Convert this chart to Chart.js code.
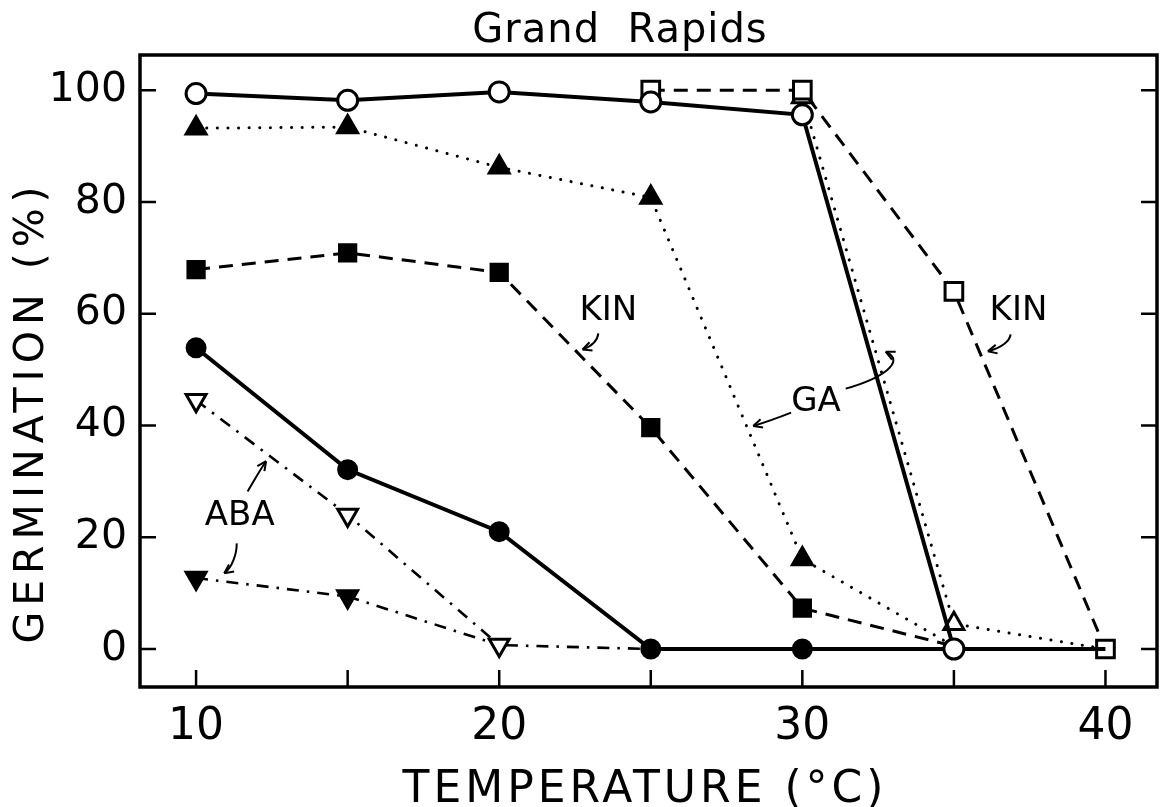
<!DOCTYPE html>
<html>
<head>
<meta charset="utf-8">
<title>Grand Rapids</title>
<script src="https://cdn.jsdelivr.net/npm/chart.js@4.4.1/dist/chart.umd.min.js"></script>
<style>
  html, body { margin: 0; padding: 0; background: #fff; overflow: hidden; }
  canvas { display: block; }
</style>
</head>
<body>
<canvas id="germChart" width="1162" height="807"></canvas>
<script>
// Temperature (°C)
const temps = [10, 15, 20, 25, 30, 35, 40];

// Germination (%) per treatment, null = no point
const openCircles     = [99.4, 98.2, 99.7, 97.9, 95.6, 0, 0];
const filledCircles   = [53.9, 32.1, 21.0, 0, 0, 0, null];
const openSquares     = [null, null, null, 100, 100, 64, 0];
const filledSquares   = [67.9, 70.9, 67.4, 39.6, 7.3, 0.5, null];
const openTriangles   = [null, null, null, null, 98.8, 4.5, 0];
const filledTriangles = [93.2, 93.4, 86.2, 80.8, 16.1, 0.5, null];
const openDown        = [44.5, 24.0, 0.7, 0, null, null, null];
const filledDown      = [12.7, 9.4, 0.7, null, null, null, null];

// temperatures where a line only ends (no symbol of its own)
const lineEnds = {
  openCircles: [40], filledCircles: [35], filledSquares: [35],
  openTriangles: [40], filledTriangles: [35], openDown: [25], filledDown: [20]
};

const xLabels = [10, 20, 30, 40];

// curve labels, in data units
const notes = [
  { text: 'KIN', x: 23.6, y: 60.5 },
  { text: 'KIN', x: 37.13, y: 60.5 },
  { text: 'GA', x: 30.45, y: 44.1 },
  { text: 'ABA', x: 11.44, y: 23.8 }
];
// arrows: start, control 1, control 2, end (data units)
const arrows = [
  [[23.27, 56.5], [23.25, 55.5], [23.1, 54.3], [22.75, 53.6]],
  [[36.87, 56.3], [36.85, 55.2], [36.6, 53.9], [36.12, 53.3]],
  [[29.63, 42.3], [29.3, 41.6], [28.8, 40.6], [28.38, 39.9]],
  [[31.43, 46.6], [32.6, 48.4], [33.45, 51.4], [32.75, 53.2]],
  [[11.70, 28.2], [11.9, 30.0], [12.1, 32.0], [12.31, 33.6]],
  [[11.34, 18.9], [11.35, 17.2], [11.2, 14.6], [10.93, 13.55]]
];

function series(key, vals, opts) {
  const ends = lineEnds[key] || [];
  return Object.assign({
    label: key,
    data: temps.map((t, i) => ({ x: t, y: vals[i] })).filter(p => p.y !== null),
    borderColor: '#000',
    pointBorderColor: '#000',
    pointBorderWidth: 3,
    pointHoverRadius: 0,
    pointRadius: ctx => (ctx.raw && ends.includes(ctx.raw.x)) ? 0 : opts.size,
    tension: 0,
    fill: false
  }, opts);
}

const solid = { borderWidth: 4, borderDash: [] };
const dashed = { borderWidth: 3, borderDash: [14, 9] };
const dotted = { borderWidth: 3, borderDash: [0.1, 10.5], borderCapStyle: 'round' };
const dashDot = { borderWidth: 2.6, borderDash: [12, 8, 2.5, 8] };

const datasets = [
  series('openCircles', openCircles, Object.assign({ size: 10, pointStyle: 'circle', pointBackgroundColor: '#fff' }, solid)),
  series('openSquares', openSquares, Object.assign({ size: 12.5, pointStyle: 'rect', pointBackgroundColor: '#fff' }, dashed)),
  series('openTriangles', openTriangles, Object.assign({ size: 11.5, pointStyle: 'triangle', pointBackgroundColor: '#fff' }, dotted)),
  series('filledTriangles', filledTriangles, Object.assign({ size: 11.5, pointStyle: 'triangle', pointBackgroundColor: '#000' }, dotted)),
  series('filledSquares', filledSquares, Object.assign({ size: 11.5, pointStyle: 'rect', pointBackgroundColor: '#000' }, dashed)),
  series('filledCircles', filledCircles, Object.assign({ size: 9, pointStyle: 'circle', pointBackgroundColor: '#000' }, solid)),
  series('openDown', openDown, Object.assign({ size: 11.5, pointStyle: 'triangle', pointRotation: 180, pointBackgroundColor: '#fff' }, dashDot)),
  series('filledDown', filledDown, Object.assign({ size: 11.5, pointStyle: 'triangle', pointRotation: 180, pointBackgroundColor: '#000' }, dashDot))
];

// box + inward ticks
const framePlugin = {
  id: 'frame',
  beforeDatasetsDraw(chart) {
    const { ctx, chartArea: a, scales: { x, y } } = chart;
    ctx.save();
    ctx.strokeStyle = '#000';
    ctx.lineWidth = 2.5;
    ctx.beginPath();
    x.ticks.forEach(t => {
      const px = x.getPixelForValue(t.value);
      ctx.moveTo(px, a.bottom);
      ctx.lineTo(px, a.bottom - 17);
    });
    y.ticks.forEach(t => {
      const py = y.getPixelForValue(t.value);
      ctx.moveTo(a.left, py);
      ctx.lineTo(a.left + 16, py);
      ctx.moveTo(a.right, py);
      ctx.lineTo(a.right - 16, py);
    });
    ctx.stroke();
    ctx.lineWidth = 3.5;
    ctx.strokeRect(a.left, a.top, a.right - a.left, a.bottom - a.top);
    ctx.restore();
  }
};

// curve labels and arrows
const notesPlugin = {
  id: 'notes',
  afterDatasetsDraw(chart) {
    const { ctx, scales: { x, y } } = chart;
    ctx.save();
    ctx.fillStyle = '#000';
    ctx.font = '34px "DejaVu Sans"';
    ctx.textAlign = 'center';
    ctx.textBaseline = 'middle';
    notes.forEach(n => ctx.fillText(n.text, x.getPixelForValue(n.x), y.getPixelForValue(n.y)));

    ctx.strokeStyle = '#000';
    ctx.lineWidth = 2;
    arrows.forEach(a => {
      const p = a.map(q => [x.getPixelForValue(q[0]), y.getPixelForValue(q[1])]);
      ctx.beginPath();
      ctx.moveTo(p[0][0], p[0][1]);
      ctx.bezierCurveTo(p[1][0], p[1][1], p[2][0], p[2][1], p[3][0], p[3][1]);
      ctx.stroke();
      const ang = Math.atan2(p[3][1] - p[2][1], p[3][0] - p[2][0]);
      ctx.beginPath();
      [0.45, -0.45].forEach(d => {
        ctx.moveTo(p[3][0], p[3][1]);
        ctx.lineTo(p[3][0] - 10 * Math.cos(ang + d), p[3][1] - 10 * Math.sin(ang + d));
      });
      ctx.stroke();
    });
    ctx.restore();
  }
};

// title and spaced axis titles
const titlesPlugin = {
  id: 'titles',
  afterDraw(chart) {
    const { ctx } = chart;
    ctx.save();
    ctx.fillStyle = '#000';
    ctx.textAlign = 'center';
    ctx.textBaseline = 'alphabetic';
    ctx.font = '40px "DejaVu Sans"';
    ctx.letterSpacing = '1px';
    ctx.fillText('Grand  Rapids', 620, 42);

    ctx.font = '44px "DejaVu Sans"';
    ctx.letterSpacing = '4px';
    ctx.fillText('TEMPERATURE (°C)', 645, 802);

    ctx.translate(43, 412);
    ctx.rotate(-Math.PI / 2);
    ctx.font = '41px "DejaVu Sans"';
    ctx.letterSpacing = '6px';
    ctx.fillText('GERMINATION (%)', 0, 0);
    ctx.restore();
  }
};

new Chart(document.getElementById('germChart').getContext('2d'), {
  type: 'line',
  data: { datasets: datasets },
  options: {
    responsive: false,
    animation: false,
    devicePixelRatio: 1,
    layout: { autoPadding: false, padding: { left: 0, top: 55, right: 5, bottom: 0 } },
    plugins: {
      legend: { display: false },
      tooltip: { enabled: false },
      title: { display: false }
    },
    scales: {
      x: {
        type: 'linear',
        min: 8.15,
        max: 41.7,
        afterFit: s => { s.height = 120; s.paddingLeft = 0; s.paddingRight = 0; },
        grid: { display: false, drawTicks: false },
        border: { display: false },
        ticks: {
          stepSize: 5,
          includeBounds: false,
          autoSkip: false,
          maxRotation: 0,
          padding: 14,
          color: '#000',
          font: { family: 'DejaVu Sans', size: 44 },
          callback: v => xLabels.includes(v) ? String(v) : ''
        }
      },
      y: {
        min: -6.8,
        max: 106.3,
        afterFit: s => { s.width = 140; s.paddingTop = 0; s.paddingBottom = 0; },
        grid: { display: false, drawTicks: false },
        border: { display: false },
        ticks: {
          stepSize: 20,
          includeBounds: false,
          padding: 13,
          color: '#000',
          font: { family: 'DejaVu Sans', size: 41 }
        }
      }
    }
  },
  plugins: [framePlugin, notesPlugin, titlesPlugin]
});
</script>
</body>
</html>
